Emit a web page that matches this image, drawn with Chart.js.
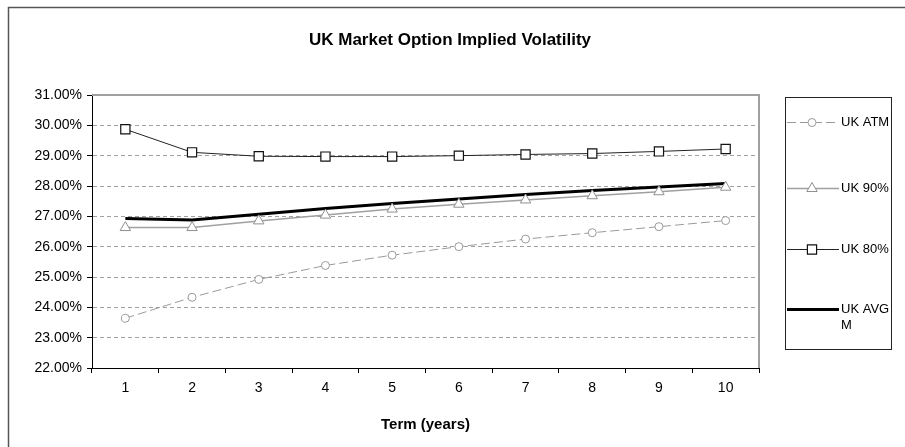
<!DOCTYPE html>
<html>
<head>
<meta charset="utf-8">
<script src="https://cdn.jsdelivr.net/npm/chart.js@4/dist/chart.umd.min.js"></script>
<style>
  html, body { margin: 0; padding: 0; background: #fff; }
  #volChart { display: block; }
</style>
</head>
<body>
<canvas id="volChart" width="905" height="447"></canvas>
<script>
// term structure (values in %)
const terms = ['1', '2', '3', '4', '5', '6', '7', '8', '9', '10'];
const ukAtm = [23.64, 24.33, 24.92, 25.38, 25.72, 26.00, 26.25, 26.46, 26.66, 26.86];
const uk90 = [26.63, 26.63, 26.85, 27.04, 27.24, 27.40, 27.54, 27.68, 27.81, 27.96];
const uk80 = [29.87, 29.11, 28.98, 28.97, 28.97, 29.00, 29.04, 29.07, 29.14, 29.22];
const ukAvgm = [26.93, 26.88, 27.07, 27.26, 27.42, 27.57, 27.72, 27.85, 27.97, 28.08];
const seriesNames = ['UK ATM', 'UK 90%', 'UK 80%', 'UK AVGM'];
const yMin = 22, yMax = 31;

const FONT = '"Liberation Sans", Arial, sans-serif';
Chart.defaults.font.family = FONT;
Chart.defaults.color = '#000';

// frame, plot border, title and the boxed legend on the right
const decor = {
    id: 'decor',
    afterDraw(chart) {
        const ctx = chart.ctx;
        const area = chart.chartArea;
        ctx.save();

        // outer chart frame
        ctx.strokeStyle = '#555';
        ctx.lineWidth = 1.5;
        ctx.strokeRect(8.5, 7.5, 1000, 1000);

        // plot area top / right edges
        ctx.strokeStyle = '#a0a0a0';
        ctx.lineWidth = 2;
        ctx.beginPath();
        ctx.moveTo(area.left, area.top);
        ctx.lineTo(area.right, area.top);
        ctx.lineTo(area.right, area.bottom);
        ctx.stroke();

        // title
        ctx.fillStyle = '#000';
        ctx.font = 'bold 17px ' + FONT;
        ctx.textAlign = 'center';
        ctx.textBaseline = 'middle';
        ctx.fillText('UK Market Option Implied Volatility', 450, 40);

        // legend box
        ctx.strokeStyle = '#222';
        ctx.lineWidth = 1;
        ctx.strokeRect(785.5, 97.5, 106, 252);
        const rows = [122, 188, 249, 309];
        ctx.font = '13px ' + FONT;
        ctx.textAlign = 'left';
        chart.data.datasets.forEach((ds, i) => {
            const y = rows[i];
            ctx.save();
            ctx.strokeStyle = ds.borderColor;
            ctx.lineWidth = ds.borderWidth;
            ctx.setLineDash(ds.borderDash || []);
            ctx.beginPath();
            ctx.moveTo(787, y + 0.5);
            ctx.lineTo(839, y + 0.5);
            ctx.stroke();
            ctx.restore();
            if (ds.pointRadius > 0) {
                ctx.save();
                ctx.fillStyle = ds.pointBackgroundColor;
                ctx.strokeStyle = ds.pointBorderColor;
                ctx.lineWidth = ds.pointBorderWidth;
                Chart.helpers.drawPoint(ctx, {
                    pointStyle: ds.pointStyle,
                    radius: ds.pointRadius,
                    borderWidth: ds.pointBorderWidth,
                    rotation: 0
                }, 812, y + 0.5);
                ctx.restore();
            }
            ctx.fillStyle = '#000';
            if (ds.label === 'UK AVGM') {
                ctx.fillText('UK AVG', 841, y);
                ctx.fillText('M', 841, y + 16);
            } else {
                ctx.fillText(ds.label, 841, y);
            }
        });
        ctx.restore();
    }
};

const ctx = document.getElementById('volChart').getContext('2d');
const chart = new Chart(ctx, {
    type: 'line',
    data: {
        labels: terms,
        datasets: [{
            label: seriesNames[0],
            data: ukAtm,
            borderColor: '#9a9a9a',
            borderWidth: 1,
            borderDash: [9, 4],
            pointStyle: 'circle',
            pointRadius: 4,
            pointBorderWidth: 1,
            pointBorderColor: '#9a9a9a',
            pointBackgroundColor: '#fff'
        }, {
            label: seriesNames[1],
            data: uk90,
            borderColor: '#a0a0a0',
            borderWidth: 1.5,
            pointStyle: 'triangle',
            pointRadius: 6,
            pointBorderWidth: 1,
            pointBorderColor: '#909090',
            pointBackgroundColor: '#fff'
        }, {
            label: seriesNames[2],
            data: uk80,
            borderColor: '#222',
            borderWidth: 1,
            pointStyle: 'rect',
            pointRadius: 6.5,
            pointBorderWidth: 1.2,
            pointBorderColor: '#111',
            pointBackgroundColor: '#fff'
        }, {
            label: seriesNames[3],
            data: ukAvgm,
            borderColor: '#000',
            borderWidth: 3,
            pointRadius: 0,
            pointBorderWidth: 0
        }]
    },
    options: {
        responsive: false,
        animation: false,
        layout: { padding: { left: 0, right: 146, top: 95, bottom: 0 } },
        plugins: {
            legend: { display: false },
            title: { display: false },
            tooltip: { enabled: false }
        },
        elements: { line: { tension: 0 } },
        scales: {
            x: {
                offset: true,
                grid: {
                    offset: true,
                    drawOnChartArea: false,
                    drawTicks: true,
                    tickLength: 5,
                    tickColor: '#000'
                },
                border: { color: '#000', width: 1 },
                ticks: { font: { size: 14 }, padding: 7, maxRotation: 0 },
                title: {
                    display: true,
                    text: 'Term (years)',
                    font: { size: 15, weight: 'bold' },
                    padding: { top: 0, bottom: 13 }
                },
                afterFit(scale) { scale.height = 79; }
            },
            y: {
                min: yMin,
                max: yMax,
                ticks: {
                    stepSize: 1,
                    font: { size: 14 },
                    padding: 5,
                    callback: (v) => v.toFixed(2) + '%'
                },
                grid: {
                    color: '#a0a0a0',
                    lineWidth: 1,
                    tickLength: 5,
                    tickColor: '#000',
                    tickBorderDash: []
                },
                border: { color: '#000', width: 1, dash: [4, 3] },
                afterFit(scale) { scale.width = 92; }
            }
        }
    },
    plugins: [decor]
});
</script>
</body>
</html>
